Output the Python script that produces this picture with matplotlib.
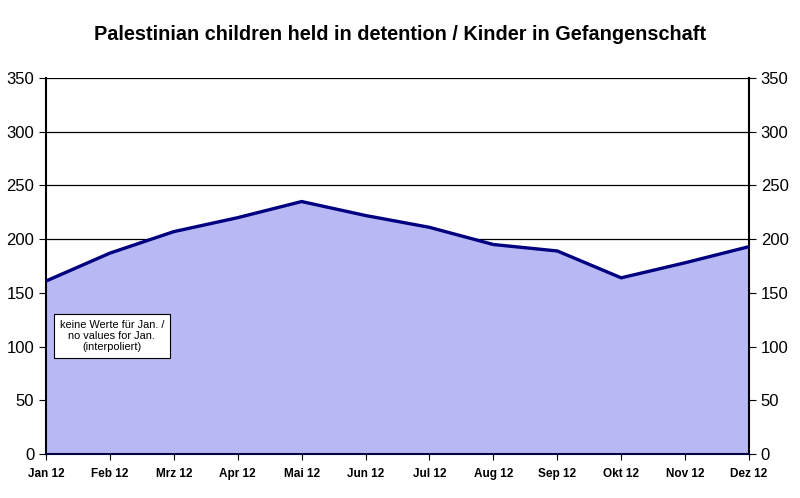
import matplotlib
matplotlib.use("Agg")
import matplotlib.pyplot as plt

months = ["Jan 12", "Feb 12", "Mrz 12", "Apr 12", "Mai 12", "Jun 12",
          "Jul 12", "Aug 12", "Sep 12", "Okt 12", "Nov 12", "Dez 12"]
children = [161, 187, 207, 220, 235, 222, 211, 195, 189, 164, 178, 193]
yticks = [0, 50, 100, 150, 200, 250, 300, 350]

plt.rcParams['font.family'] = ['Liberation Sans', 'DejaVu Sans']

fig = plt.figure(figsize=(8, 4.98), dpi=100)
ax = fig.add_axes([46/800, 1 - 454/498, 703/800, 376/498])
x = list(range(len(months)))

for v in yticks[1:]:
    ax.axhline(v, color='black', lw=0.9, zorder=1)
ax.fill_between(x, children, 0, color='#b8b8f4', zorder=2, lw=0)
ax.plot(x, children, color='#000080', lw=2.4, zorder=3, solid_joinstyle='miter')

ax.set_xlim(0, len(months) - 1)
ax.set_ylim(0, 350)
ax.set_xticks(x)
ax.set_xticklabels(months, fontsize=8.5, fontweight='bold')
ax.set_yticks(yticks)
ax.tick_params(axis='y', labelsize=12, length=5, direction='out', width=0.8,
               right=True, labelright=True)
ax.tick_params(axis='x', length=4, direction='out', width=0.8, pad=6)
for s in ['left', 'right', 'bottom']:
    ax.spines[s].set_linewidth(1.5)
ax.spines['top'].set_visible(False)
ax.spines['bottom'].set_color('#000040')

ax.text(1.03, 110, "keine Werte für Jan. /\nno values for Jan.\n(interpoliert)",
        fontsize=7.9, ha='center', va='center', linespacing=1.15, zorder=5,
        bbox=dict(boxstyle='square,pad=0.55', fc='white', ec='black', lw=0.8))

fig.suptitle("Palestinian children held in detention / Kinder in Gefangenschaft",
             x=0.5, y=0.95, fontsize=14.3, fontweight='bold')

fig.savefig("out.png", dpi=100, facecolor='white')
